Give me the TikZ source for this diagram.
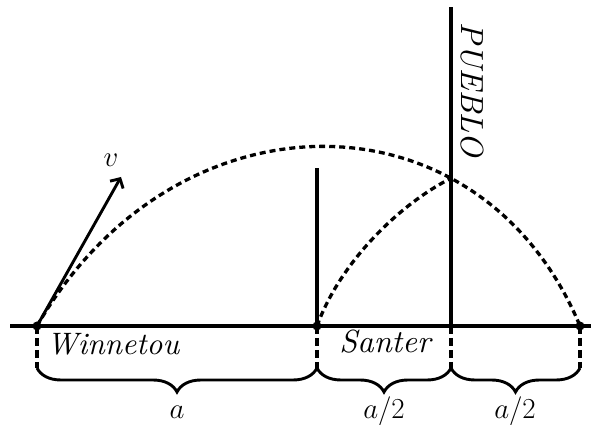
\documentclass[tikz,border=0pt]{standalone}
\usepackage{fontspec}
\setmainfont{lmroman10-regular}[Extension=.otf, ItalicFont=lmroman10-italic, BoldFont=lmroman10-bold]
\usepackage{fix-cm}
\usetikzlibrary{decorations.pathreplacing,intersections,calc,arrows.meta}
\begin{document}
\begin{tikzpicture}[x=1pt,y=1pt,
  solidline/.style={line width=3.1pt},
  traj/.style={line width=3.3pt, dash pattern=on 6pt off 4pt},
  dropline/.style={line width=3.7pt, dash pattern=on 8pt off 4pt},
  bracedec/.style={line width=2.9pt, decorate, decoration={brace,mirror,amplitude=24pt}},
  dot/.style={circle, fill, inner sep=0pt, minimum size=9pt},
  lbl/.style={font=\fontsize{29}{34}\selectfont, inner sep=0pt}]
\useasboundingbox (0,0) rectangle (591,425);
\coordinate (L) at (10,99);
\coordinate (R) at (591,99);
\coordinate (W) at (37,99);
\coordinate (S) at (317,99);
\coordinate (P) at (451,99);
\coordinate (E) at (580,99);
\coordinate (Stop) at (317,257);
\coordinate (Ptop) at (451,418);
\coordinate (Vtip) at (121,248);
\coordinate (Wb) at (37,57);
\coordinate (Sb) at (317,57);
\coordinate (Pb) at (451,57);
\coordinate (Eb) at (580,57);
% ground and posts
\draw[solidline] (L) -- (R);
\draw[solidline,name path=pueblo] (P) -- (Ptop);
\draw[solidline] (S) -- (Stop);
% trajectories
\draw[traj, name path=big] (W) .. controls (175,338) and (480,339) .. (E);
\path[name intersections={of=big and pueblo, by=X}];
\draw[traj] (S) .. controls ($(S)+(70:70)$) and ($(X)+(206.6:55)$) .. (X);
% velocity arrow
\draw[line width=2.9pt, -{Straight Barb[length=7pt,width=15pt]}] (W) -- (Vtip);
\node[lbl, anchor=base] (vlab) at (111,258) {$v$};
% drop lines
\draw[dropline] (W) -- (Wb);
\draw[dropline] (S) -- (Sb);
\draw[dropline] (P) -- (Pb);
\draw[dropline] (E) -- (Eb);
% dots
\node[dot] (w) at (W) {};
\node[dot] (s) at (S) {};
\node[dot] (e) at (E) {};
% braces
\draw[bracedec] (Wb) -- (Sb);
\draw[bracedec] (Sb) -- (Pb);
\draw[bracedec] (Pb) -- (Eb);
% labels
\node[lbl, anchor=base] (la) at (177,6) {$a$};
\node[lbl, anchor=base] (lb) at (384,6) {$a/2$};
\node[lbl, anchor=base] (lc) at (515,6) {$a/2$};
\node[inner sep=0pt, anchor=base, font=\fontsize{31}{36}\selectfont\itshape] (win) at (113,70) {Winnetou};
\node[inner sep=0pt, anchor=base, font=\fontsize{32}{38}\selectfont\itshape] (san) at (385,72) {Santer};
\node[inner sep=0pt, rotate=-90, font=\fontsize{32}{38}\selectfont\itshape] (pue) at (472,335) {PUEBLO};
\end{tikzpicture}
\end{document}
